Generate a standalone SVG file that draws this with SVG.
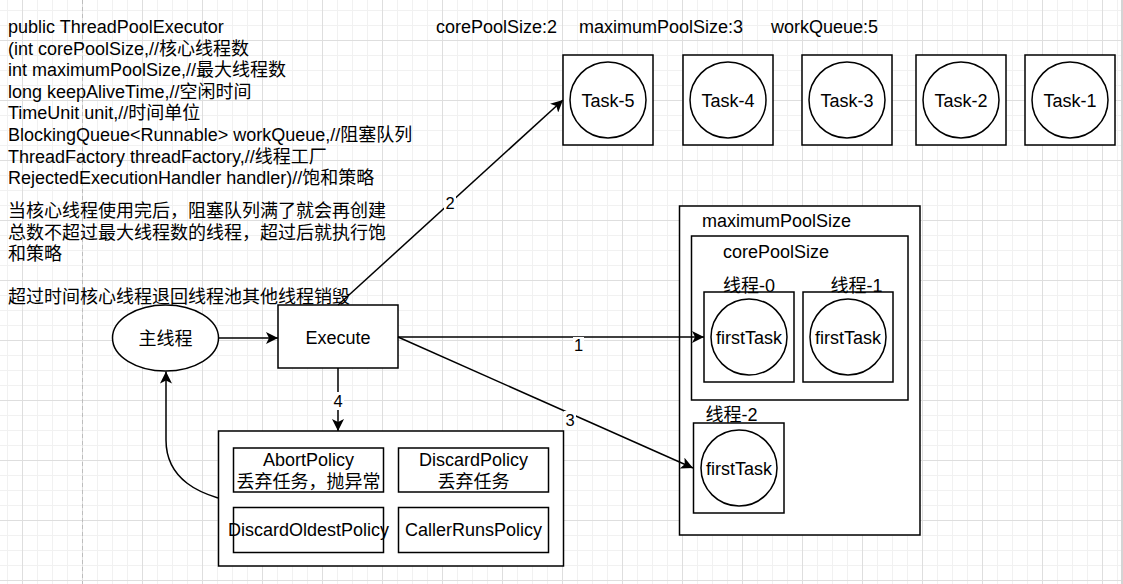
<svg xmlns="http://www.w3.org/2000/svg" width="1123" height="584" viewBox="0 0 1123 584">
<defs>
<pattern id="grid" patternUnits="userSpaceOnUse" x="22" y="40" width="60" height="60">
<rect x="0" y="0" width="60" height="60" fill="#ffffff"/>
<g fill="#f1f1f1">
<rect x="15" y="0" width="1" height="60"/><rect x="30" y="0" width="1" height="60"/><rect x="45" y="0" width="1" height="60"/>
<rect x="0" y="15" width="60" height="1"/><rect x="0" y="30" width="60" height="1"/><rect x="0" y="45" width="60" height="1"/>
</g>
<g fill="#dedede">
<rect x="0" y="0" width="1" height="60"/><rect x="0" y="0" width="60" height="1"/>
</g>
</pattern>
<marker id="arr" viewBox="0 0 12 12" refX="12" refY="6" markerWidth="12" markerHeight="12" markerUnits="userSpaceOnUse" orient="auto">
<path d="M0,0 L12,6 L0,12 L3,6 Z" fill="#000"/>
</marker>
<style>
text{font-family:"Liberation Sans",Arial,"Noto Sans CJK SC",sans-serif;font-size:18px;fill:#000}
.c{text-anchor:middle}
.lbl{font-size:16.5px;text-anchor:middle}
.box{fill:#fff;stroke:#000;stroke-width:1.5}
.edge{fill:none;stroke:#000;stroke-width:1.5}
</style>
</defs>
<rect x="0" y="0" width="1123" height="584" fill="url(#grid)"/>
<line x1="82.5" y1="0" x2="82.5" y2="584" stroke="#bdbdbd" stroke-width="1" stroke-dasharray="4,3"/>
<rect x="1121" y="0" width="2" height="584" fill="#d4d4d4"/>

<g id="desc">
<text x="8" y="33">public ThreadPoolExecutor</text>
<text x="8" y="54.6">(int corePoolSize,//核心线程数</text>
<text x="8" y="76.2">int maximumPoolSize,//最大线程数</text>
<text x="8" y="97.8">long keepAliveTime,//空闲时间</text>
<text x="8" y="119.4">TimeUnit unit,//时间单位</text>
<text x="8" y="141">BlockingQueue&lt;Runnable&gt; workQueue,//阻塞队列</text>
<text x="8" y="162.6">ThreadFactory threadFactory,//线程工厂</text>
<text x="8" y="184.2">RejectedExecutionHandler handler)//饱和策略</text>
</g>
<g id="note">
<text x="8" y="217">当核心线程使用完后，阻塞队列满了就会再创建</text>
<text x="8" y="238.6">总数不超过最大线程数的线程，超过后就执行饱</text>
<text x="8" y="260.2">和策略</text>
<text x="8" y="303.4">超过时间核心线程退回线程池其他线程销毁</text>
</g>
<g id="params">
<text x="436" y="33">corePoolSize:2</text>
<text x="579" y="33">maximumPoolSize:3</text>
<text x="771" y="33">workQueue:5</text>
</g>

<g id="task5"><rect class="box" x="563" y="55" width="90" height="90"/><circle class="box" cx="608" cy="100" r="38"/><text class="c" x="608" y="106.5">Task-5</text></g>
<g id="task4"><rect class="box" x="683" y="55" width="90" height="90"/><circle class="box" cx="728" cy="100" r="38"/><text class="c" x="728" y="106.5">Task-4</text></g>
<g id="task3"><rect class="box" x="802" y="55" width="90" height="90"/><circle class="box" cx="847" cy="100" r="38"/><text class="c" x="847" y="106.5">Task-3</text></g>
<g id="task2"><rect class="box" x="916" y="55" width="90" height="90"/><circle class="box" cx="961" cy="100" r="38"/><text class="c" x="961" y="106.5">Task-2</text></g>
<g id="task1"><rect class="box" x="1025" y="55" width="90" height="90"/><circle class="box" cx="1070" cy="100" r="38"/><text class="c" x="1070" y="106.5">Task-1</text></g>

<g id="maxPool"><rect class="box" x="679.5" y="206" width="240.5" height="329"/><text x="702" y="227">maximumPoolSize</text></g>
<g id="corePool"><rect class="box" x="691.5" y="236" width="216.5" height="164"/><text x="723" y="258">corePoolSize</text></g>
<g id="thread0"><rect class="box" x="704" y="292" width="90" height="90"/><circle class="box" cx="749" cy="337" r="38"/><text class="c" x="749" y="343.5">firstTask</text><text x="723" y="291.5">线程-0</text></g>
<g id="thread1"><rect class="box" x="803" y="292" width="90" height="90"/><circle class="box" cx="848" cy="337" r="38"/><text class="c" x="848" y="343.5">firstTask</text><text x="830.5" y="291.5">线程-1</text></g>
<g id="thread2"><rect class="box" x="693.5" y="423" width="90.5" height="90"/><circle class="box" cx="739" cy="468" r="38"/><text class="c" x="739" y="474.5">firstTask</text><text x="705.5" y="421">线程-2</text></g>

<g id="mainThread"><ellipse class="box" cx="165.5" cy="338" rx="53" ry="33"/><text class="c" x="165.5" y="344.5">主线程</text></g>
<g id="execute"><rect class="box" x="278" y="305" width="120" height="63"/><text class="c" x="338" y="343.5">Execute</text></g>

<g id="policies">
<rect class="box" x="218.5" y="431" width="345" height="135"/>
<rect class="box" x="233.5" y="448" width="150" height="44"/>
<text class="c" x="308.5" y="465.5">AbortPolicy</text>
<text class="c" x="308.5" y="488">丢弃任务，抛异常</text>
<rect class="box" x="398.5" y="448" width="150" height="44"/>
<text class="c" x="473.5" y="465.5">DiscardPolicy</text>
<text class="c" x="473.5" y="488">丢弃任务</text>
<rect class="box" x="233.5" y="507.5" width="150" height="45"/>
<text class="c" x="308.5" y="536">DiscardOldestPolicy</text>
<rect class="box" x="398.5" y="507.5" width="150" height="45"/>
<text class="c" x="473.5" y="536">CallerRunsPolicy</text>
</g>

<g id="connectors">
<path class="edge" d="M219,338 L278,338" marker-end="url(#arr)"/>
<path class="edge" d="M338,305 L563,100" marker-end="url(#arr)"/>
<path class="edge" d="M398,337 L704,337" marker-end="url(#arr)"/>
<path class="edge" d="M398,337 L693,468" marker-end="url(#arr)"/>
<path class="edge" d="M338,368 L338,431" marker-end="url(#arr)"/>
<path class="edge" d="M218,498 C205,494 166,482 166,440 L166,371.5" marker-end="url(#arr)"/>
<rect x="444" y="194" width="12" height="18" fill="#fff"/><text class="lbl" x="450" y="209">2</text>
<rect x="573" y="337" width="11" height="17" fill="#fff"/><text class="lbl" x="578.5" y="351">1</text>
<rect x="564" y="411" width="12" height="18" fill="#fff"/><text class="lbl" x="570" y="426">3</text>
<rect x="332" y="392" width="12" height="18" fill="#fff"/><text class="lbl" x="338" y="407">4</text>
</g>
</svg>
